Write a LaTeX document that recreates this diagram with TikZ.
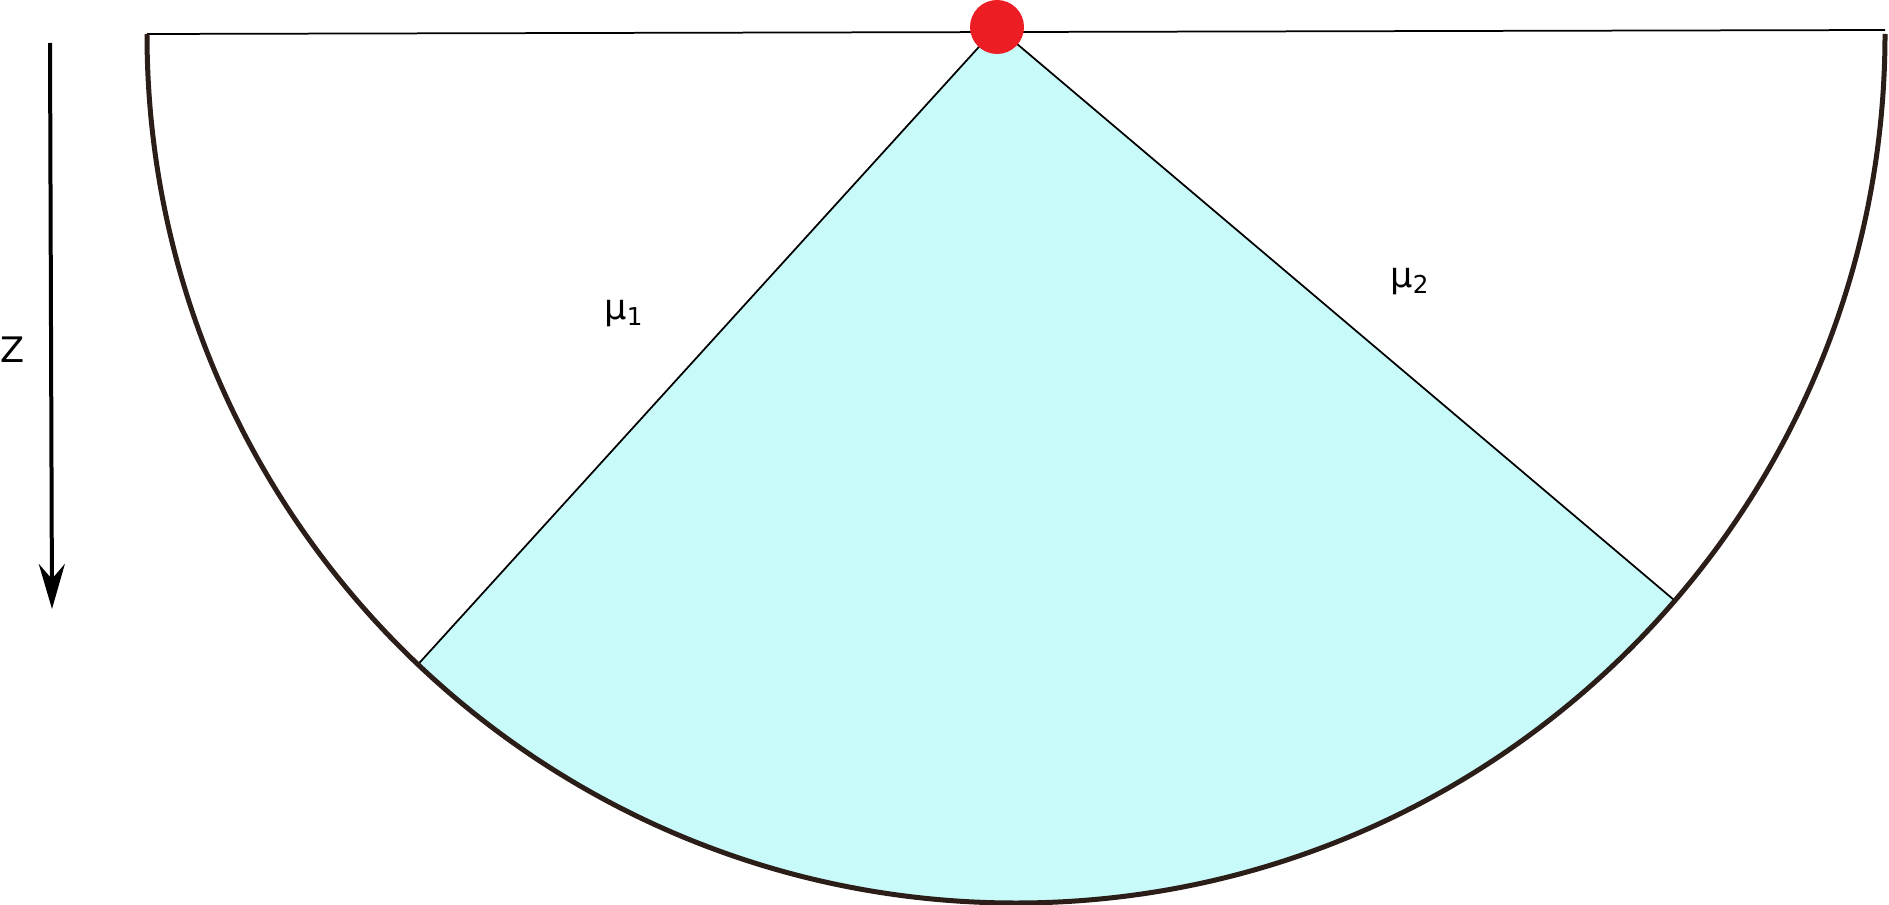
\documentclass[tikz,border=0pt]{standalone}
\usepackage{fontspec}
\setmainfont{DejaVu Sans}
\usetikzlibrary{calc,arrows.meta}
\definecolor{rimbrown}{RGB}{43,29,24}
\definecolor{conecyan}{RGB}{200,250,249}
\definecolor{dotred}{RGB}{237,29,36}
\tikzset{rim/.style={draw=rimbrown,line width=0.1cm},
	ray/.style={draw=black,line width=0.035cm},
	lbl/.style={font=\fontsize{20}{24}\selectfont,inner sep=0pt}}

\begin{document}
\begin{tikzpicture}[x=0.02cm,y=0.02cm]
			%%%%% START %%%%%
			\useasboundingbox (0,0) rectangle (1889,904);
			\coordinate (C) at (1016,872);
			\coordinate (apex) at (997,877);
			\coordinate (L) at ($(C)+(226.6:869)$);
			\coordinate (R) at ($(C)+(319.2:869)$);
			\coordinate (TL) at (147,870);
			\coordinate (TR) at (1885,874);
			
			\fill[conecyan] (apex) -- (L) arc (226.6:319.2:869) -- cycle;
			\draw[ray] (TL) -- (TR);
			\draw[ray] (apex) -- (L);
			\draw[ray] (apex) -- (R);
			\draw[rim] (TL) arc (180:360:869);
			\fill[dotred] (apex) circle (27);
			
			\node[lbl] (mu1) at (624,590) {μ\textsubscript{1}};
			\node[lbl] (mu2) at (1410,622) {μ\textsubscript{2}};
			
			\coordinate (ztop) at (50,861);
			\coordinate (zbot) at (52,295);
			\draw[line width=0.08cm,-{Stealth[length=0.9cm,width=0.52cm,inset=0.3cm]}] (ztop) -- (zbot);
			\node[lbl,anchor=west] (z) at (0,554) {Z};
			%%%%% END %%%%%
		\end{tikzpicture}
\end{document}
